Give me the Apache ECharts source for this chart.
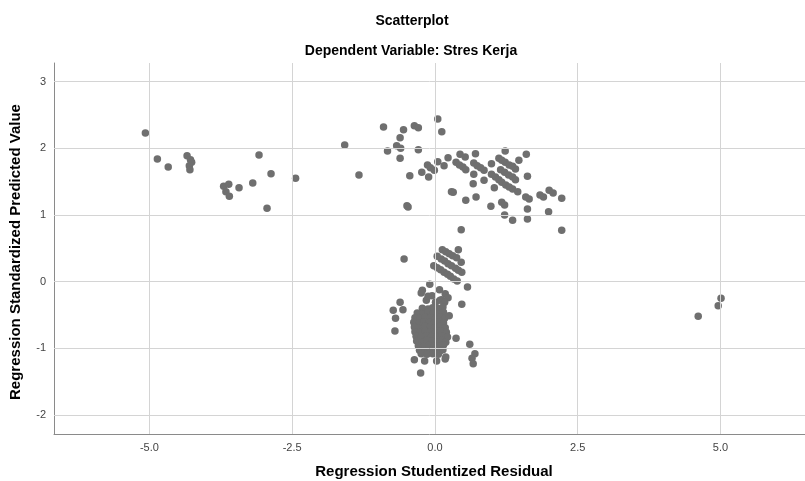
<!DOCTYPE html>
<html><head><meta charset="utf-8">
<script src="https://cdn.jsdelivr.net/npm/echarts@6/dist/echarts.min.js"></script>
<style>html,body{margin:0;padding:0;background:#fff}#c{width:805px;height:481px}</style>
</head><body><div id="c"></div>
<script>
const titleText = 'Scatterplot';
const subtitleText = 'Dependent Variable: Stres Kerja';
const xAxisName = 'Regression Studentized Residual';
const yAxisName = 'Regression Standardized Predicted Value';
const xTicks = [-5, -2.5, 0, 2.5, 5];
const yTicks = [-2, -1, 0, 1, 2, 3];

const upperLeftPoints = [
  [-5.07,2.23],[-4.86,1.84],[-4.67,1.72],[-4.34,1.89],[-4.28,1.83],[-4.26,1.79],[-4.30,1.74],[-4.29,1.68],
  [-3.08,1.90],[-2.87,1.62],[-2.44,1.55],[-3.19,1.48],[-3.43,1.41],[-3.70,1.43],[-3.61,1.46],[-3.66,1.35],
  [-3.60,1.28],[-2.94,1.10]
];
const upperMiddlePoints = [
  [-1.58,2.05],[-1.33,1.60],[-0.90,2.32],[-0.83,1.96],[-0.55,2.28],[-0.61,2.16],[-0.67,2.04],[-0.60,2.00],
  [-0.61,1.85],[-0.36,2.34],[-0.29,2.31],[-0.29,1.98],[-0.44,1.59],[-0.49,1.14],[-0.47,1.12],[0.05,2.44],
  [0.12,2.25],[-0.23,1.64],[-0.11,1.57],[-0.13,1.75],[-0.08,1.71],[-0.01,1.67],[0.05,1.80],[0.16,1.74],
  [0.23,1.86],[0.29,1.35],[0.32,1.34],[0.44,1.91],[0.53,1.87],[0.37,1.79],[0.43,1.75],[0.49,1.72],
  [0.54,1.68],[0.54,1.22],[0.46,0.78]
];
const upperRightPoints = [
  [0.71,1.92],[0.68,1.78],[0.74,1.74],[0.80,1.71],[0.86,1.67],[0.68,1.61],[0.67,1.47],[0.86,1.52],
  [0.72,1.27],[0.99,1.77],[1.04,1.41],[0.98,1.13],[1.12,1.85],[1.17,1.82],[1.23,1.79],[1.30,1.75],
  [1.36,1.73],[1.41,1.69],[1.23,1.96],[1.47,1.82],[1.60,1.91],[0.99,1.61],[1.06,1.57],[1.12,1.53],
  [1.17,1.49],[1.24,1.45],[1.30,1.42],[1.36,1.39],[1.45,1.35],[1.15,1.68],[1.22,1.64],[1.29,1.60],
  [1.36,1.57],[1.41,1.53],[1.62,1.58],[1.59,1.27],[1.65,1.24],[1.62,1.09],[1.62,0.94],[1.17,1.19],
  [1.22,1.15],[1.22,1.00],[1.36,0.92],[1.84,1.30],[1.90,1.27],[2.00,1.37],[2.07,1.33],[1.99,1.05],
  [2.22,1.25],[2.22,0.77]
];
const streakPoints = [
  [0.13,0.48],[0.19,0.45],[0.25,0.42],[0.31,0.39],[0.38,0.36],[0.46,0.29],
  [0.04,0.38],[0.11,0.34],[0.17,0.31],[0.23,0.27],[0.29,0.24],[0.36,0.20],[0.41,0.17],[0.47,0.14],
  [-0.02,0.24],[0.04,0.21],[0.10,0.18],[0.16,0.14],[0.22,0.11],[0.27,0.08],[0.33,0.04],[0.39,0.01],
  [0.41,0.48],[-0.54,0.34],[0.57,-0.08],[0.47,-0.34]
];
const blobTopPoints = [
  [-0.09,-0.04],[-0.22,-0.13],[-0.24,-0.17],[0.08,-0.12],[0.18,-0.18],[0.23,-0.24],[0.12,-0.27],
  [0.09,-0.28],[0.17,-0.31],[-0.05,-0.21],[-0.15,-0.28],[0.01,-0.31],[-0.12,-0.22]
];
const blobPoints = [
  [-0.22,-0.40],[-0.12,-0.41],[-0.04,-0.39],[0.05,-0.40],[0.14,-0.38],
  [-0.31,-0.47],[-0.21,-0.48],[-0.12,-0.46],[-0.03,-0.47],[0.06,-0.48],[0.15,-0.46],
  [-0.35,-0.54],[-0.26,-0.55],[-0.17,-0.53],[-0.08,-0.54],[0.01,-0.55],[0.10,-0.53],[0.17,-0.55],
  [-0.37,-0.61],[-0.28,-0.62],[-0.19,-0.60],[-0.10,-0.61],[-0.01,-0.62],[0.08,-0.60],[0.15,-0.62],
  [-0.36,-0.68],[-0.27,-0.69],[-0.18,-0.67],[-0.09,-0.68],[0.00,-0.69],[0.09,-0.67],[0.18,-0.69],
  [-0.35,-0.75],[-0.26,-0.76],[-0.17,-0.74],[-0.08,-0.75],[0.01,-0.76],[0.10,-0.74],[0.20,-0.76],
  [-0.33,-0.82],[-0.24,-0.83],[-0.15,-0.81],[-0.06,-0.82],[0.03,-0.83],[0.12,-0.81],[0.22,-0.83],
  [-0.32,-0.89],[-0.23,-0.90],[-0.14,-0.88],[-0.05,-0.89],[0.04,-0.90],[0.13,-0.88],[0.19,-0.91],
  [-0.29,-0.96],[-0.20,-0.97],[-0.11,-0.95],[-0.02,-0.96],[0.07,-0.97],[0.15,-0.95],
  [-0.27,-1.03],[-0.18,-1.04],[-0.09,-1.02],[0.00,-1.03],[0.09,-1.04],[0.14,-1.02],
  [-0.24,-1.08],[-0.14,-1.09],[-0.04,-1.08],[0.06,-1.09]
];
const blobEdgePoints = [
  [-0.61,-0.31],[-0.73,-0.43],[-0.56,-0.42],[-0.69,-0.55],[-0.70,-0.74],
  [-0.36,-1.17],[-0.18,-1.19],[0.03,-1.19],[0.18,-1.16],[-0.25,-1.37],[0.37,-0.85],[0.25,-0.51],
  [0.61,-0.94],[0.70,-1.08],[0.65,-1.15],[0.67,-1.23],[0.19,-1.13]
];
const rightOutlierPoints = [[5.01,-0.25],[4.96,-0.36],[4.61,-0.52]];

const allPoints = [].concat(upperLeftPoints, upperMiddlePoints, upperRightPoints, streakPoints,
  blobTopPoints, blobPoints, blobEdgePoints, rightOutlierPoints);

const chart = echarts.init(document.getElementById('c'), null, {renderer: 'canvas'});
const labelFont = '"Liberation Sans Narrow", "Liberation Sans", Arial, sans-serif';
const boldFont = '"Liberation Sans", Arial, sans-serif';

chart.setOption({
  animation: false,
  backgroundColor: '#ffffff',
  grid: {left: 54, right: 0, top: 63, bottom: 47, containLabel: false},
  xAxis: {
    type: 'value', min: -6.67, max: 6.48,
    axisLine: {show: true, onZero: false, lineStyle: {color: '#8a8a8a', width: 1}},
    axisTick: {show: false},
    splitLine: {show: false},
    axisLabel: {
      customValues: xTicks, margin: 8, color: '#444', fontSize: 11, fontFamily: labelFont,
      formatter: v => v.toFixed(1)
    }
  },
  yAxis: {
    type: 'value', min: -2.285, max: 3.28,
    axisLine: {show: true, onZero: false, lineStyle: {color: '#8a8a8a', width: 1}},
    axisTick: {show: false},
    splitLine: {show: false},
    axisLabel: {
      customValues: yTicks, margin: 8, color: '#444', fontSize: 11, fontFamily: labelFont,
      formatter: v => String(v)
    }
  },
  graphic: [
    {type: 'text', x: 412, y: 21, style: {text: titleText, align: 'center', verticalAlign: 'middle', fill: '#000', font: 'bold 14px ' + boldFont}},
    {type: 'text', x: 411, y: 51, style: {text: subtitleText, align: 'center', verticalAlign: 'middle', fill: '#000', font: 'bold 14px ' + boldFont}},
    {type: 'text', x: 434, y: 472, style: {text: xAxisName, align: 'center', verticalAlign: 'middle', fill: '#000', font: 'bold 15px ' + boldFont}},
    {type: 'text', x: 16, y: 252, rotation: Math.PI / 2, style: {text: yAxisName, align: 'center', verticalAlign: 'middle', fill: '#000', font: 'bold 15px ' + boldFont}}
  ],
  series: [
    {
      type: 'scatter', z: 1, data: [], silent: true,
      markLine: {
        silent: true, symbol: 'none', label: {show: false}, animation: false,
        lineStyle: {color: '#d4d4d4', type: 'solid', width: 1},
        emphasis: {disabled: true},
        data: yTicks.map(v => ({yAxis: v})).concat(xTicks.map(v => ({xAxis: v})))
      }
    },
    {
      type: 'scatter', z: 2, data: allPoints, symbolSize: 7.5,
      itemStyle: {color: '#6f6f6f', opacity: 1}
    }
  ]
});
</script>
</body></html>
